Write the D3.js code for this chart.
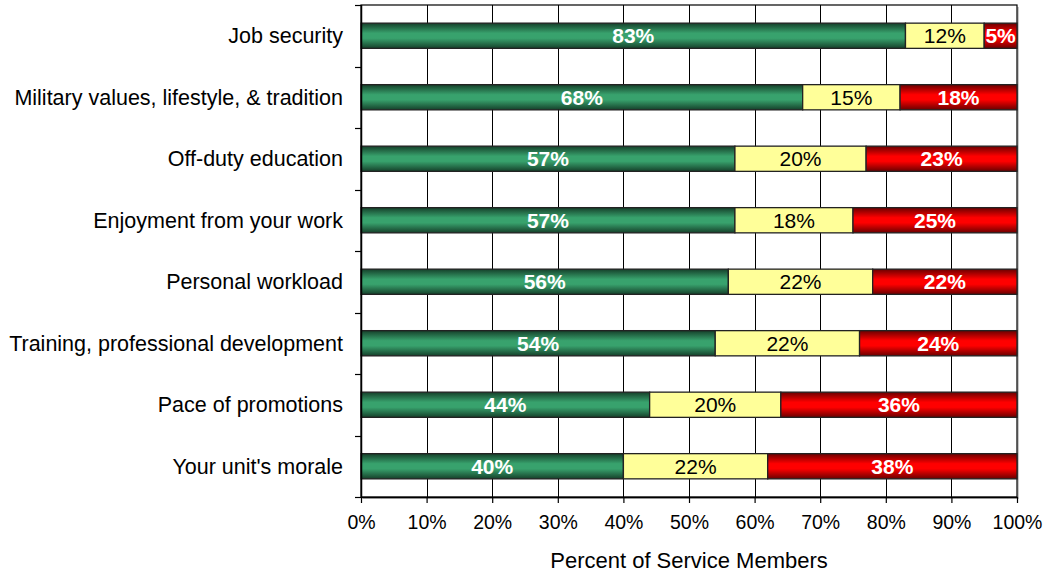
<!DOCTYPE html>
<html>
<head>
<meta charset="utf-8">
<script src="https://cdn.jsdelivr.net/npm/d3@7"></script>
<style>
  html, body { margin: 0; padding: 0; background: #fff; }
  svg { display: block; font-family: Arial, "Liberation Sans", sans-serif; }
</style>
</head>
<body>
<svg id="chart" width="1048" height="575"></svg>
<script>
// Survey items, top to bottom
const categories = [
  "Job security",
  "Military values, lifestyle, & tradition",
  "Off-duty education",
  "Enjoyment from your work",
  "Personal workload",
  "Training, professional development",
  "Pace of promotions",
  "Your unit's morale"
];
// Percent of responses in each group
const satisfied   = [83, 68, 57, 57, 56, 54, 44, 40];
const neutral     = [12, 15, 20, 18, 22, 22, 20, 22];
const dissatisfied = [5, 18, 23, 25, 22, 24, 36, 38];
const xTicks = [0, 0.1, 0.2, 0.3, 0.4, 0.5, 0.6, 0.7, 0.8, 0.9, 1.0];
const xTitle = "Percent of Service Members";

const keys = ["satisfied", "neutral", "dissatisfied"];
const rows = categories.map((c, i) => ({
  category: c,
  satisfied: satisfied[i],
  neutral: neutral[i],
  dissatisfied: dissatisfied[i]
}));

const svg = d3.select("#chart");
const margin = { left: 361, right: 31, top: 5, bottom: 78 };
const W = 1048, H = 575;
const iw = W - margin.left - margin.right;
const ih = H - margin.top - margin.bottom;

const x = d3.scaleLinear().domain([0, 1]).range([0, iw]);
const y = d3.scaleBand().domain(categories).range([0, ih]).paddingInner(0.59).paddingOuter(0.295);
const yBand = d3.scaleBand().domain(categories).range([0, ih]);

const defs = svg.append("defs");
function stripe(id, edge, mid) {
  const g = defs.append("linearGradient").attr("id", id)
    .attr("x1", 0).attr("y1", 0).attr("x2", 0).attr("y2", 1);
  g.append("stop").attr("offset", "0%").attr("stop-color", edge);
  g.append("stop").attr("offset", "40%").attr("stop-color", mid);
  g.append("stop").attr("offset", "60%").attr("stop-color", mid);
  g.append("stop").attr("offset", "100%").attr("stop-color", edge);
}
stripe("gGreen", "#15402a", "#38a26d");
stripe("gRed", "#6a0000", "#ff0000");

const fills = { satisfied: "url(#gGreen)", neutral: "#ffff99", dissatisfied: "url(#gRed)" };
const labelStyle = {
  satisfied: { fill: "#fff", weight: "bold" },
  neutral: { fill: "#000", weight: "normal" },
  dissatisfied: { fill: "#fff", weight: "bold" }
};

const g = svg.append("g").attr("transform", `translate(${margin.left},${margin.top})`);

// plot shadow and frame
g.append("rect").attr("x", 2).attr("y", 2).attr("width", iw).attr("height", ih)
  .attr("fill", "#c8c8c8");
g.append("rect").attr("x", 0).attr("y", 0).attr("width", iw).attr("height", ih)
  .attr("fill", "#fff").attr("stroke", "#000").attr("stroke-width", 1.2);

// vertical gridlines
g.append("g").selectAll("line").data(xTicks.slice(1, -1)).join("line")
  .attr("x1", d => Math.round(x(d)) + 0.5).attr("x2", d => Math.round(x(d)) + 0.5)
  .attr("y1", 0).attr("y2", ih).attr("stroke", "#000").attr("stroke-width", 1);

// stacked, normalised to 100%
const series = d3.stack().keys(keys).offset(d3.stackOffsetExpand)(rows);

const layers = g.append("g").selectAll("g").data(series).join("g");
layers.selectAll("rect").data(d => d.map(v => ({ key: d.key, v }))).join("rect")
  .attr("x", d => x(d.v[0]))
  .attr("y", d => y(d.v.data.category))
  .attr("width", d => x(d.v[1]) - x(d.v[0]))
  .attr("height", y.bandwidth())
  .attr("fill", d => fills[d.key])
  .attr("stroke", "#222").attr("stroke-width", 1.3);

layers.selectAll("text").data(d => d.map(v => ({ key: d.key, v }))).join("text")
  .attr("x", d => (x(d.v[0]) + x(d.v[1])) / 2)
  .attr("y", d => y(d.v.data.category) + y.bandwidth() / 2)
  .attr("dy", "0.36em")
  .attr("text-anchor", "middle")
  .attr("font-size", 21)
  .attr("fill", d => labelStyle[d.key].fill)
  .attr("font-weight", d => labelStyle[d.key].weight)
  .text(d => d.v.data[d.key] + "%");

// y axis
const yAxis = g.append("g");
yAxis.append("line").attr("x1", 0.5).attr("x2", 0.5).attr("y1", 0).attr("y2", ih)
  .attr("stroke", "#000").attr("stroke-width", 1.5);
const bounds = categories.map(c => yBand(c)).concat([ih]);
yAxis.selectAll("line.tick").data(bounds).join("line").attr("class", "tick")
  .attr("x1", -6).attr("x2", 0)
  .attr("y1", d => Math.round(d) + 0.5).attr("y2", d => Math.round(d) + 0.5)
  .attr("stroke", "#000").attr("stroke-width", 1.2);
yAxis.selectAll("text").data(categories).join("text")
  .attr("x", -18)
  .attr("y", d => y(d) + y.bandwidth() / 2)
  .attr("dy", "0.36em")
  .attr("text-anchor", "end")
  .attr("font-size", 21.5)
  .attr("fill", "#000")
  .text(d => d);

// x axis
const xAxis = g.append("g").attr("transform", `translate(0,${ih})`)
  .call(d3.axisBottom(x).tickValues(xTicks).tickFormat(d3.format(".0%")).tickSize(6).tickSizeOuter(0));
xAxis.select(".domain").attr("stroke", "#000").attr("stroke-width", 1.5);
xAxis.selectAll(".tick line").attr("stroke", "#000").attr("stroke-width", 1.2);
xAxis.selectAll(".tick text").attr("font-size", 19.5).attr("fill", "#000")
  .attr("font-family", "Arial, 'Liberation Sans', sans-serif").attr("dy", "1.2em");

svg.append("text")
  .attr("x", margin.left + iw / 2)
  .attr("y", 568)
  .attr("text-anchor", "middle")
  .attr("font-size", 22)
  .attr("fill", "#000")
  .text(xTitle);
</script>
</body>
</html>
